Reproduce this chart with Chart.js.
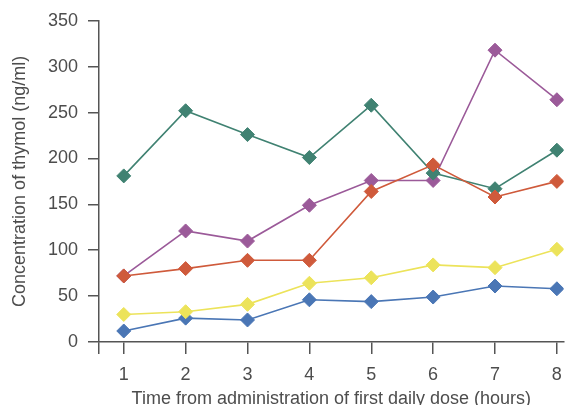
<!DOCTYPE html>
<html>
<head>
<meta charset="utf-8">
<script src="https://cdn.jsdelivr.net/npm/chart.js@4"></script>
<style>
  html, body { margin: 0; padding: 0; background: #fff; overflow: hidden; }
  #wrap { width: 572px; height: 405px; }
</style>
</head>
<body>
<div id="wrap"><canvas id="thymolChart"></canvas></div>
<script>
// ===== Data =====
const hours = [1, 2, 3, 4, 5, 6, 7, 8];
const greenSeries  = [181, 252, 226, 201, 258, 184, 167, 209];
const purpleSeries = [72, 121, 110, 149, 176, 176, 318, 264];
const redSeries    = [72, 80, 89, 89, 164, 193, 158, 175];
const yellowSeries = [30, 33, 41, 64, 70, 84, 81, 101];
const blueSeries   = [12, 26, 24, 46, 44, 49, 61, 58];
const yTicks = [0, 50, 100, 150, 200, 250, 300, 350];

const axisColor = '#555555';
const textColor = '#4d4d4d';
const fontFamily = '"Liberation Sans", Arial, Helvetica, sans-serif';

function series(values, color) {
    return {
        data: values.map((v, i) => ({ x: hours[i], y: v })),
        borderColor: color,
        backgroundColor: color,
        borderWidth: 1.6,
        pointStyle: 'rectRot',
        pointRadius: 7,
        pointHoverRadius: 7,
        pointBorderWidth: 1,
        tension: 0
    };
}

// first one in the list ends up on top
const datasets = [
    series(redSeries, '#cf5a3b'),
    series(greenSeries, '#408272'),
    series(purpleSeries, '#9b5a99'),
    series(yellowSeries, '#ece35a'),
    series(blueSeries, '#4a76b5')
];

new Chart(document.getElementById('thymolChart'), {
    type: 'line',
    data: { datasets },
    options: {
        responsive: true,
        maintainAspectRatio: false,
        animation: false,
        layout: { padding: { top: 19, right: 0, left: 0, bottom: 0 } },
        plugins: { legend: { display: false }, tooltip: { enabled: false } },
        scales: {
            x: {
                type: 'linear',
                min: 0.6,
                max: 8.11,
                afterBuildTicks: s => { s.ticks = [0.6].concat(hours).map(v => ({ value: v })); },
                afterFit: s => { s.height = 63; },
                grid: { drawOnChartArea: false, drawTicks: true, tickLength: 12, color: axisColor, lineWidth: 1.5 },
                border: { color: axisColor, width: 1.5 },
                ticks: {
                    padding: 10,
                    color: textColor,
                    font: { family: fontFamily, size: 18 },
                    maxRotation: 0,
                    callback: v => (hours.includes(v) ? String(v) : '')
                },
                title: {
                    display: true,
                    text: 'Time from administration of first daily dose (hours)',
                    color: textColor,
                    font: { family: fontFamily, size: 18, lineHeight: 1 },
                    // the reference crops the bottom of this line a little
                    padding: { top: 0, bottom: -3 }
                }
            },
            y: {
                min: 0,
                max: 350,
                afterBuildTicks: s => { s.ticks = yTicks.map(v => ({ value: v })); },
                afterFit: s => { s.width = 99; },
                grid: { drawOnChartArea: false, drawTicks: true, tickLength: 11, color: axisColor, lineWidth: 1.5 },
                border: { color: axisColor, width: 1.5 },
                ticks: {
                    padding: 10,
                    color: textColor,
                    font: { family: fontFamily, size: 18 }
                },
                title: {
                    display: true,
                    text: 'Concentration of thymol (ng/ml)',
                    color: textColor,
                    font: { family: fontFamily, size: 18 },
                    padding: { top: 9, bottom: 0 }
                }
            }
        }
    }
});
</script>
</body>
</html>
